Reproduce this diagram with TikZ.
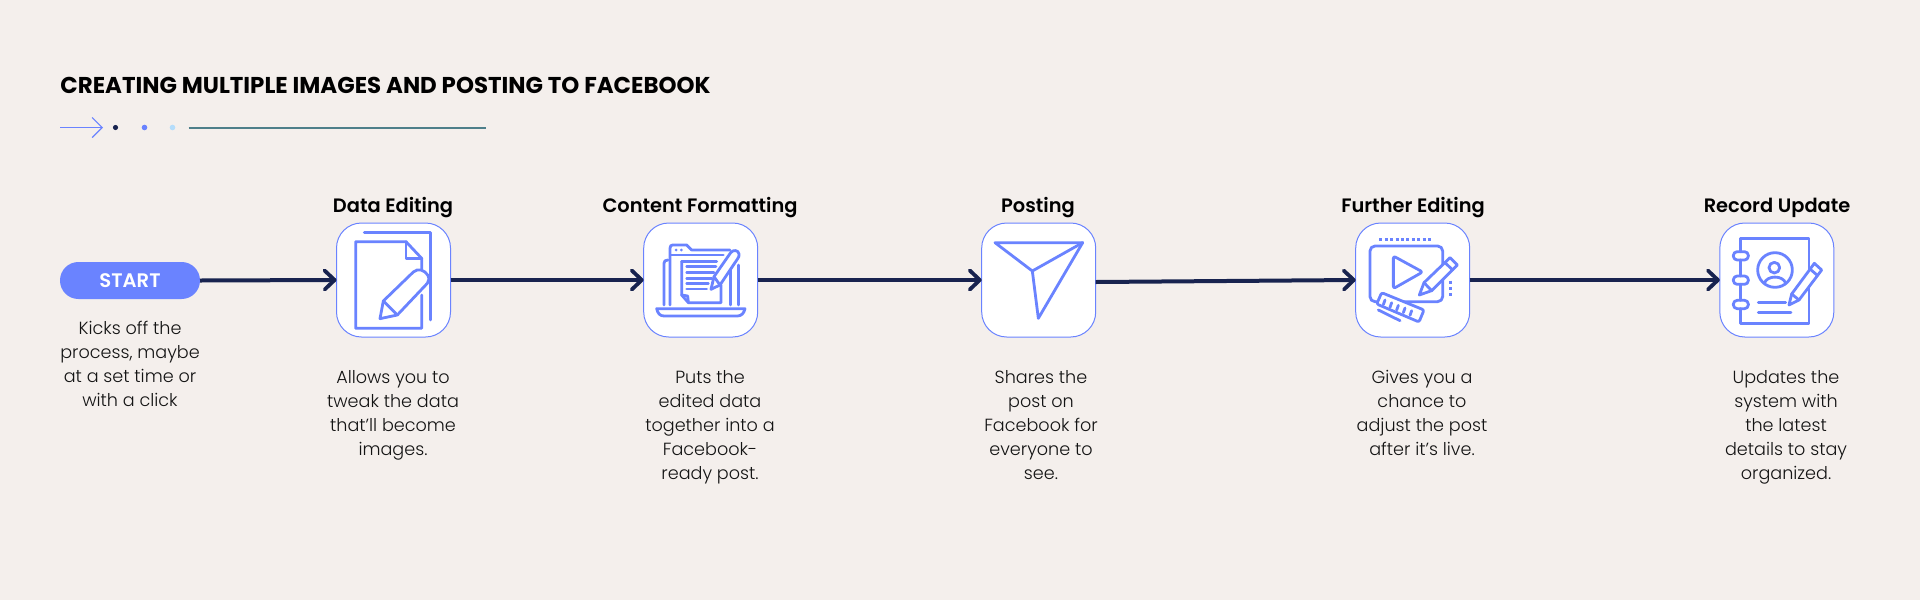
\documentclass[tikz,border=0pt]{standalone}
\usepackage{fontspec}
\setmainfont{Poppins}[UprightFont=* Light,BoldFont=* SemiBold]
\newfontfamily\titlefont{Poppins}[UprightFont=* Bold]
\usetikzlibrary{arrows.meta}
\definecolor{bgc}{HTML}{F4EFEC}
\definecolor{navy}{HTML}{18234F}
\definecolor{iconb}{HTML}{6A83FF}
\definecolor{skyd}{HTML}{B5DDFB}
\definecolor{teal2}{HTML}{4E7F8A}
\definecolor{txt}{HTML}{141414}
\tikzset{
  x=0.5pt,y=-0.5pt,
  box/.style={draw=iconb,line width=0.5pt,fill=white,rounded corners=12.5pt,minimum width=57pt,minimum height=57pt,inner sep=0pt,outer sep=0pt},
  pill/.style={fill=iconb,rounded corners=9.2pt,minimum width=70pt,minimum height=18.5pt,inner sep=0pt,outer sep=0pt},
  pilltext/.style={inner sep=0pt,anchor=base,text=white,font=\fontsize{9.8}{12}\selectfont\bfseries},
  flow/.style={draw=navy,line width=2pt,-{Straight Barb[round,length=5pt,width=9.5pt,line width=1.9pt]}},
  head/.style={inner sep=0pt,anchor=base,text=black,font=\fontsize{9.7}{12}\selectfont\bfseries},
  desc/.style={inner sep=0pt,anchor=north,text=txt,align=center,font=\fontsize{8.8}{12}\selectfont,execute at begin node=\strut},
  ic/.style={draw=iconb,line width=1.4pt,line join=round,line cap=round},
  icf/.style={ic,fill=white},
}
\begin{document}
\begin{tikzpicture}
\useasboundingbox (0,0) rectangle (1920,600);
\fill[bgc] (0,0) rectangle (1920,600);
\node[anchor=base west,inner sep=0pt,text=black,font=\fontsize{11.45}{13}\selectfont\titlefont] (title) at (60,93) {CREATING MULTIPLE IMAGES AND POSTING TO FACEBOOK};
% header decoration
\coordinate (ha) at (60,127.5);
\coordinate (hb) at (103,127.5);
\draw[iconb,line width=0.6pt,-{Straight Barb[length=5pt,width=10pt,line width=0.6pt]}] (ha) -- (hb);
\fill[navy] (115.5,127.5) circle (2.6);
\fill[iconb] (144.5,127.5) circle (2.8);
\fill[skyd] (172.5,127.5) circle (2.8);
\coordinate (hc) at (188.5,128);
\coordinate (hd) at (485.5,128);
\draw[teal2,line width=1.3pt] (hc) -- (hd);
% nodes
\node[pill] (s) at (130,280.5) {};
\node[pilltext] (st) at (130,287) {START};
\node[box] (b1) at (393.5,280) {};
\node[box] (b2) at (700.7,280) {};
\node[box] (b3) at (1038.7,280) {};
\node[box] (b4) at (1412.7,280) {};
\node[box] (b5) at (1776.8,280) {};
% headings
\node[head] (h1) at (393,212) {Data Editing};
\node[head] (h2) at (700,212) {Content Formatting};
\node[head] (h3) at (1038,212) {Posting};
\node[head] (h4) at (1413,212) {Further Editing};
\node[head] (h5) at (1777,212) {Record Update};
% descriptions
\node[desc] (d0) at (130,321) {Kicks off the\\process, maybe\\at a set time or\\with a click};
\node[desc] (d1) at (393,370) {Allows you to\\tweak the data\\that’ll become\\images.};
\node[desc] (d2) at (710,370) {Puts the\\edited data\\together into a\\Facebook-\\ready post.};
\node[desc] (d3) at (1041,370) {Shares the\\post on\\Facebook for\\everyone to\\see.};
\node[desc] (d4) at (1422,370) {Gives you a\\chance to\\adjust the post\\after it’s live.};
\node[desc] (d5) at (1786,370) {Updates the\\system with\\the latest\\details to stay\\organized.};
% connectors
\draw[flow] (s.east) -- (b1.west);
\draw[flow] (b1.east) -- (b2.west);
\draw[flow] (b2.east) -- (b3.west);
\draw[flow] ([yshift=-1pt]b3.east) -- (b4.west);
\draw[flow] (b4.east) -- (b5.west);
% icon 1
\begin{scope}[shift={(330,220)},scale=0.3333]
\draw[ic] (103,38) -- (302,38) -- (302,300);
\draw[ic] (275,155) -- (275,115) -- (228,65) -- (77,65) -- (77,325) -- (275,325) -- (275,225);
\draw[ic] (228,65) -- (228,115) -- (275,115);
\draw[icf] (150,296) -- (160,243) -- (250,156) .. controls (265,143) and (283,150) .. (293,165) .. controls (298,175) and (298,182) .. (292,190) -- (202,285) -- cycle;
\draw[ic] (160,243) -- (202,285);
\end{scope}
% icon 2
\begin{scope}[shift={(640,220)},scale=0.3333]
\draw[ic] (72,255) -- (72,130) .. controls (72,123) and (76,120) .. (84,120);
\draw[ic] (295,135) -- (295,255);
\draw[ic] (272,145) -- (272,255);
\draw[ic] (90,255) -- (90,85) .. controls (90,78) and (93,75) .. (98,75) -- (140,75) -- (155,90) -- (270,90);
\draw[ic] (92,105) -- (250,105);
\fill[iconb] (108,90) circle (4.5) (124,90) circle (4.5);
\draw[ic] (125,125) -- (230,125);
\draw[ic] (125,125) -- (125,225) -- (145,248) -- (243,248) -- (243,195);
\draw[ic] (125,225) -- (143,228) -- (145,246);
\draw[ic] (140,140) -- (228,140) (140,157) -- (222,157) (140,175) -- (215,175) (140,190) -- (205,190) (140,207) -- (200,207);
\draw[icf] (213,208) -- (222,170) -- (272,98) .. controls (280,88) and (295,90) .. (297,102) .. controls (298,108) and (296,112) .. (293,116) -- (240,195) -- cycle;
\draw[ic] (222,170) -- (240,195);
\draw[icf] (50,266) -- (315,266) .. controls (312,280) and (304,288) .. (292,288) -- (72,288) .. controls (60,288) and (53,280) .. (50,266) -- cycle;
\end{scope}
% icon 3
\begin{scope}[shift={(975,220)},scale=0.3333]
\draw[ic] (60,68) -- (323,68) -- (190,295) -- (172,153) -- cycle;
\draw[ic] (172,153) -- (323,68);
\end{scope}
% icon 4
\begin{scope}[shift={(1350,220)},scale=0.3333]
\draw[iconb,line width=1.5pt,dash pattern=on 1.5pt off 1.2pt] (88,58) -- (250,58);
\draw[iconb,line width=1.5pt,dash pattern=on 1.5pt off 1.6pt] (301,182) -- (301,232);
\draw[ic,rounded corners=2.5pt] (60,78) rectangle (278,245);
\draw[ic,rounded corners=1.2pt] (130,108) -- (218,156) -- (130,206) -- cycle;
\draw[icf] (208,225) -- (222,188) -- (300,113) -- (322,135) -- (245,212) -- cycle;
\draw[ic] (222,188) -- (245,212) (285,128) -- (308,150);
\draw[icf,rounded corners=1pt] (95,218) -- (222,270) -- (207,306) -- (80,252) -- cycle;
\draw[ic] (105,240) -- (100,254) (125,248) -- (120,262) (145,256) -- (140,270) (165,264) -- (160,278) (185,272) -- (180,286);
\draw[ic] (85,270) -- (150,302);
\end{scope}
% icon 5
\begin{scope}[shift={(1715,220)},scale=0.3333]
\draw[ic] (76,95) -- (76,55) -- (282,55) -- (282,310) -- (76,310) -- (76,266);
\draw[ic] (76,120) -- (76,168) (76,193) -- (76,241);
\draw[ic,rounded corners=1.9pt] (55,95) rectangle (100,120);
\draw[ic,rounded corners=1.9pt] (55,168) rectangle (100,193);
\draw[ic,rounded corners=1.9pt] (55,241) rectangle (100,266);
\draw[ic] (180,150) circle (52);
\draw[ic] (178,143) circle (16);
\draw[ic] (148,190) .. controls (155,165) and (205,165) .. (212,190);
\draw[ic] (130,247) -- (212,247) (130,277) -- (228,277);
\draw[icf] (222,255) -- (230,222) -- (298,130) -- (320,150) -- (252,240) -- cycle;
\draw[ic] (230,222) -- (252,240) (285,147) -- (307,166);
\end{scope}
\end{tikzpicture}
\end{document}
